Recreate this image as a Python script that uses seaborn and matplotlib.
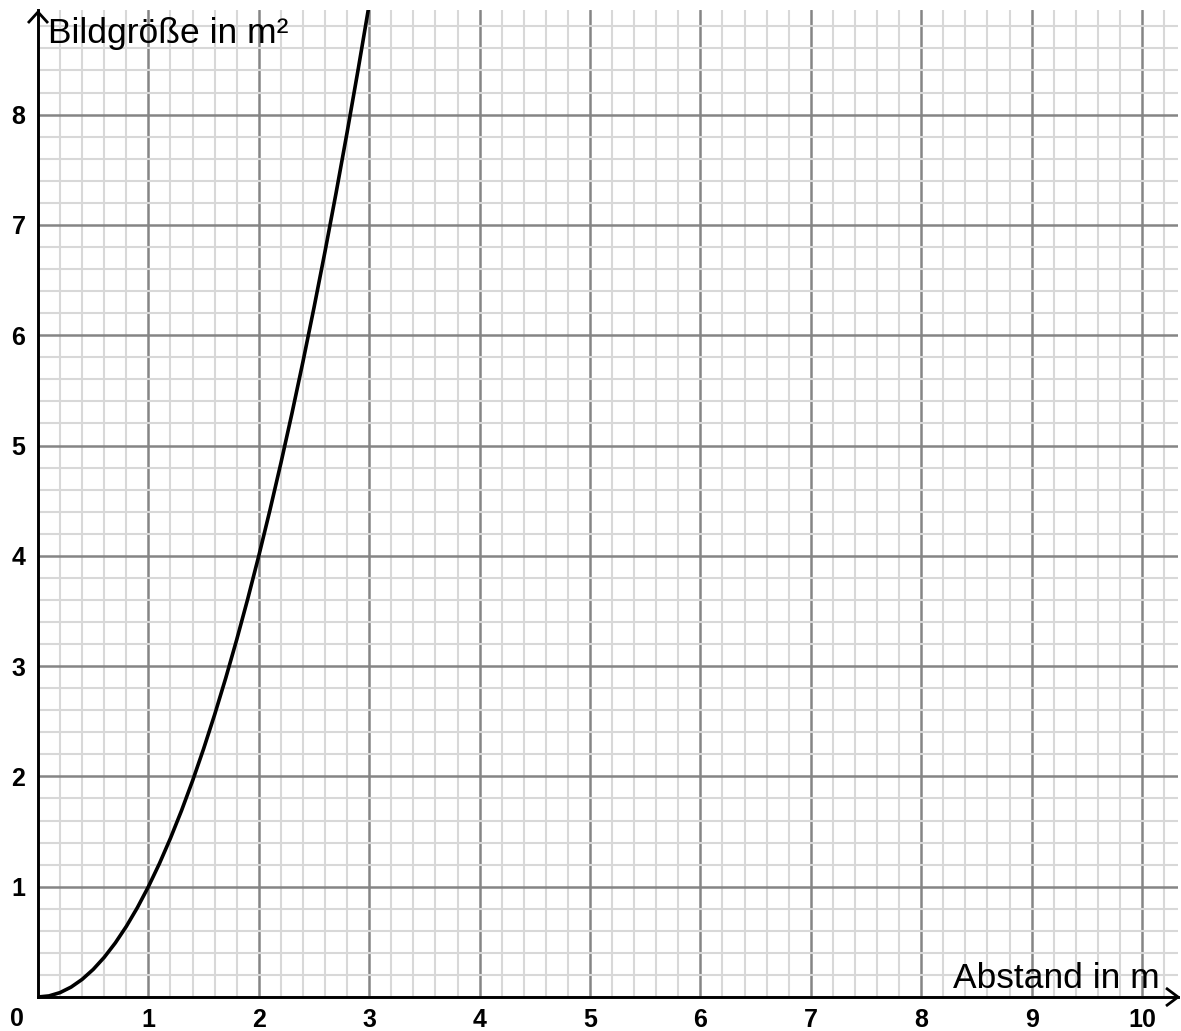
import matplotlib
matplotlib.use("Agg")
import matplotlib.pyplot as plt
from matplotlib.ticker import MultipleLocator
import seaborn as sns
import pandas as pd

# Data
abstand = [0.0, 0.1, 0.2, 0.3, 0.4, 0.5, 0.6, 0.7, 0.8, 0.9, 1.0,
           1.1, 1.2, 1.3, 1.4, 1.5, 1.6, 1.7, 1.8, 1.9, 2.0,
           2.1, 2.2, 2.3, 2.4, 2.5, 2.6, 2.7, 2.8, 2.9, 3.0]
bildgroesse = [0.0, 0.01, 0.04, 0.09, 0.16, 0.25, 0.36, 0.49, 0.64, 0.81, 1.0,
               1.21, 1.44, 1.69, 1.96, 2.25, 2.56, 2.89, 3.24, 3.61, 4.0,
               4.41, 4.84, 5.29, 5.76, 6.25, 6.76, 7.29, 7.84, 8.41, 9.0]
x_ticks = [1, 2, 3, 4, 5, 6, 7, 8, 9, 10]
y_ticks = [1, 2, 3, 4, 5, 6, 7, 8]
x_label = "Abstand in m"
y_label = "Bildgröße in m²"

df = pd.DataFrame({"x": abstand, "y": bildgroesse})

sns.set_theme(style="white")
plt.rcParams["font.family"] = ["Liberation Sans", "DejaVu Sans"]
plt.rcParams["text.color"] = "black"
plt.rcParams["xtick.color"] = "black"
plt.rcParams["ytick.color"] = "black"

W, H = 1181, 1031
fig = plt.figure(figsize=(W / 100, H / 100), dpi=100)
L, R, B, T = 38, 1178, 997, 10
ax = fig.add_axes([L / W, (H - B) / H, (R - L) / W, (B - T) / H])

XMAX = (R - L) / 110.4
YMAX = (B - T) / 110.3
ax.set_xlim(0, XMAX)
ax.set_ylim(0, YMAX)

ax.xaxis.set_major_locator(MultipleLocator(1))
ax.yaxis.set_major_locator(MultipleLocator(1))
ax.xaxis.set_minor_locator(MultipleLocator(0.2))
ax.yaxis.set_minor_locator(MultipleLocator(0.2))
ax.grid(which="minor", color="#d8d8d8", linewidth=1.5, zorder=0)
ax.grid(which="major", color="#858585", linewidth=1.8, zorder=1)
ax.set_axisbelow(True)

sns.lineplot(data=df, x="x", y="y", color="black", linewidth=2.6,
             estimator=None, sort=False, ax=ax, zorder=5)

ax.set_xticks(x_ticks)
ax.set_yticks(y_ticks)
ax.set_xticklabels([str(v) for v in x_ticks], fontsize=18, fontweight="bold", color="black")
ax.set_yticklabels([str(v) for v in y_ticks], fontsize=18, fontweight="bold", color="black")
ax.tick_params(axis="both", which="both", length=0)
ax.tick_params(axis="x", pad=8)
ax.tick_params(axis="y", pad=9)
ax.set_xlabel("")
ax.set_ylabel("")

for s in ["top", "right"]:
    ax.spines[s].set_visible(False)
for s in ["left", "bottom"]:
    ax.spines[s].set_color("black")
    ax.spines[s].set_linewidth(2.1)
    ax.spines[s].set_zorder(6)

# zero label at the corner
fig.text(17 / W, (H - 1019) / H, "0", fontsize=18, fontweight="bold",
         ha="center", va="center", color="black")

# arrow heads (pixel-based chevrons in figure coordinates)
def px(x, y):
    return x / W, (H - y) / H

for pts in ([(28, 23), (38, 12), (48, 23)], [(1166, 988), (1178, 997), (1166, 1006)]):
    xs, ys = zip(*[px(a, b) for a, b in pts])
    fig.add_artist(plt.Line2D(xs, ys, color="black", linewidth=2.0,
                              transform=fig.transFigure, solid_capstyle="butt"))
xs, ys = zip(*[px(38, 11), px(38, 14)])
fig.add_artist(plt.Line2D(xs, ys, color="black", linewidth=2.1, transform=fig.transFigure))

fig.text(48 / W, (H - 43) / H, y_label, fontsize=25.5, ha="left", va="baseline", color="black")
fig.text(1160 / W, (H - 988) / H, x_label, fontsize=25.5, ha="right", va="baseline", color="black")

fig.savefig("out.png", dpi=100)
